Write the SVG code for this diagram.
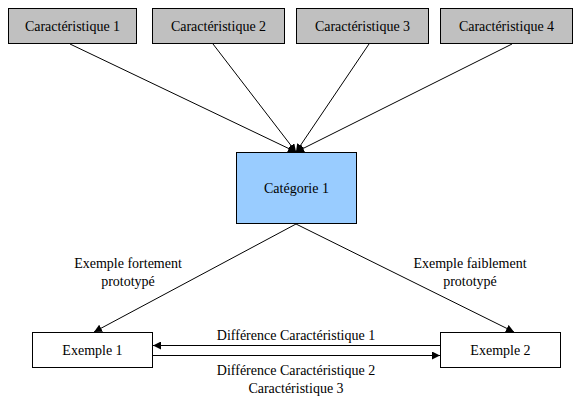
<svg xmlns="http://www.w3.org/2000/svg" width="582" height="403" viewBox="0 0 582 403">
<defs>
<style>
.t{font-size:14px;fill:#000;text-anchor:middle}
.grey{fill:#c0c0c0;stroke:#000;stroke-width:1}
.blue{fill:#99ccff;stroke:#000;stroke-width:1}
.white{fill:#fff;stroke:#000;stroke-width:1}
.c{stroke:#000;stroke-width:1;fill:none;marker-end:url(#ah)}
</style>
<marker id="ah" viewBox="0 0 10 10" refX="10" refY="5" markerWidth="8" markerHeight="8" markerUnits="userSpaceOnUse" orient="auto">
<path d="M0,0 L10,5 L0,10 z" fill="#000"/>
</marker>
</defs>
<rect width="582" height="403" fill="#fff"/>
<g font-family="'Liberation Serif', 'DejaVu Serif', serif">
<g id="c1"><rect class="grey" x="8.5" y="8.5" width="128" height="35"/><text class="t" x="72.5" y="31">Caractéristique 1</text></g>
<g id="c2"><rect class="grey" x="152.5" y="8.5" width="132" height="35"/><text class="t" x="218.5" y="31">Caractéristique 2</text></g>
<g id="c3"><rect class="grey" x="296.5" y="8.5" width="132" height="35"/><text class="t" x="362.5" y="31">Caractéristique 3</text></g>
<g id="c4"><rect class="grey" x="440.5" y="8.5" width="132" height="35"/><text class="t" x="506.5" y="31">Caractéristique 4</text></g>
<g id="cat"><rect class="blue" x="236.5" y="152.5" width="120" height="71"/><text class="t" x="296.5" y="193">Catégorie 1</text></g>
<g id="ex1"><rect class="white" x="32.5" y="332.5" width="120" height="35"/><text class="t" x="92.5" y="355">Exemple 1</text></g>
<g id="ex2"><rect class="white" x="440.5" y="332.5" width="120" height="35"/><text class="t" x="500.5" y="355">Exemple 2</text></g>
<g id="connectors">
<line class="c" x1="70" y1="44" x2="296" y2="152"/>
<line class="c" x1="213" y1="44" x2="296" y2="152"/>
<line class="c" x1="369" y1="44" x2="296" y2="152"/>
<line class="c" x1="512" y1="44" x2="296" y2="152"/>
<line class="c" x1="296" y1="224" x2="94" y2="332"/>
<line class="c" x1="296" y1="224" x2="514" y2="332"/>
<line class="c" x1="440" y1="345.5" x2="153" y2="345.5"/>
<line class="c" x1="153" y1="355.5" x2="440" y2="355.5"/>
</g>
<g id="labels">
<text class="t" x="128" y="268">Exemple fortement</text>
<text class="t" x="128" y="286">prototypé</text>
<text class="t" x="470" y="268">Exemple faiblement</text>
<text class="t" x="470" y="286">prototypé</text>
<text class="t" x="296" y="340">Différence Caractéristique 1</text>
<text class="t" x="296" y="375">Différence Caractéristique 2</text>
<text class="t" x="296" y="393">Caractéristique 3</text>
</g>
</g>
</svg>
